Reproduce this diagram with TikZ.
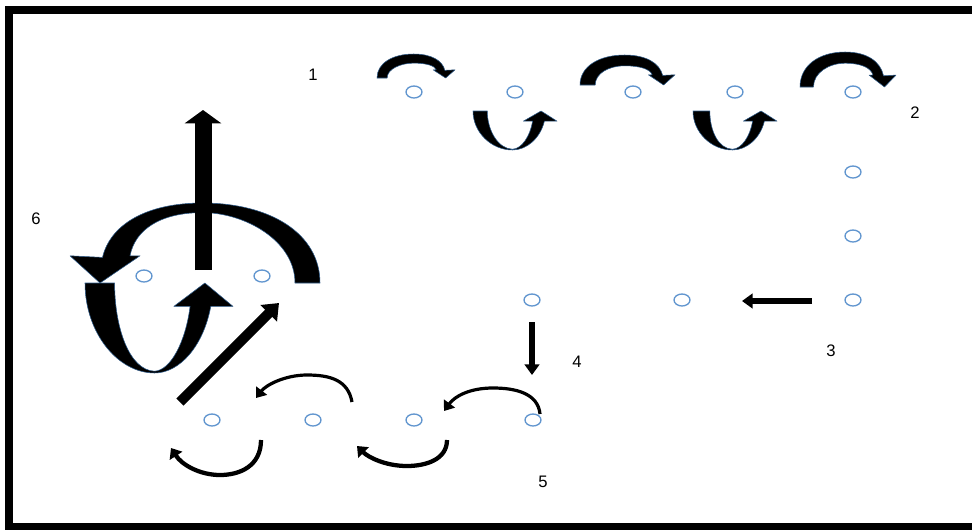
\documentclass[tikz,border=0pt]{standalone}
\usepackage{fontspec}
\newfontfamily\labelfont{Liberation Sans}
\usepackage{xcolor}
\definecolor{dotblue}{HTML}{6296CF}
\definecolor{edgeblue}{HTML}{2E5B8A}
\usepackage{tikz}
\usetikzlibrary{arrows.meta,shapes.geometric}
\tikzset{
  dot/.style={ellipse, draw=dotblue, line width=1pt, fill=white,
    minimum width=12pt, minimum height=9pt, inner sep=0pt},
  num/.style={font=\labelfont\fontsize{12.5}{14}\selectfont, text=black},
  arrowfill/.style={fill=black, draw=edgeblue, line width=0.4pt, line join=round},
  bigbar/.style={line width=12.75pt, -{Triangle[length=10pt,width=27pt]}},
  slantbar/.style={line width=7.5pt, -{Triangle[length=11pt,width=17pt]}},
  shortbar/.style={line width=5pt, -{Triangle[length=8pt,width=11pt]}},
  thinarc/.style={line width=2.4pt, -{Triangle[length=7pt,width=10pt]}},
  thinu/.style={line width=3.2pt, -{Triangle[length=7pt,width=11pt]}},
  % arc over the top, tail thick at (0,0), head down at right
  pics/overarrow/.style 2 args={code={
    \fill[arrowfill] (0,0) .. controls (0,0.62) and (0.2,1) .. (0.47,1)
      .. controls (0.7,1) and (0.84,0.72) .. (0.87,0.32)
      -- (1,0.34) -- (0.88,0) -- (0.72,0.34) -- (0.76,0.34)
      .. controls (0.74,{0.34+0.6*(#2-0.34)}) and (0.64,#2) .. (0.47,#2)
      .. controls (0.3,#2) and (#1,{0.6*#2}) .. (#1,0) -- cycle;
  }},
  % U below, tail thick at top left, head up at right
  pics/uarrow/.style={code={
    \fill[arrowfill] (0,1) .. controls (0,0.45) and (0.22,0) .. (0.47,0)
      .. controls (0.64,0) and (0.8,0.3) .. (0.85,0.74)
      -- (1,0.74) -- (0.81,1) -- (0.6,0.74) -- (0.71,0.74)
      .. controls (0.68,0.35) and (0.58,0.03) .. (0.47,0.02)
      .. controls (0.3,0.03) and (#1,0.5) .. (#1,1) -- cycle;
  }},
}

\begin{document}
\begin{tikzpicture}[x=0.75pt, y=0.75pt]
\clip (0,0) rectangle (972,-529);
% frame
\draw[line width=6pt] (9,-10) rectangle (990,-527);

% the spots
\foreach \n/\x/\y in {top1/414/92, top2/515/92, top3/633/92, top4/735/92, top5/853/92,
    side1/853/172, side2/853/236, side3/853/300, mid1/682/300, mid2/532/300,
    bot1/533/420, bot2/414/420, bot3/313/420, bot4/212/420,
    left1/144/276, left2/262/276}
  \node[dot] (\n) at (\x,-\y) {};

% numbers
\node[num] (lab1) at (313,-75) {1};
\node[num] (lab2) at (915,-113) {2};
\node[num] (lab3) at (831,-351) {3};
\node[num] (lab4) at (577,-362) {4};
\node[num] (lab5) at (543,-482) {5};
\node[num] (lab6) at (36,-219) {6};

% top row, 1 to 2
\pic[xscale=78, yscale=24] at (377,-78) {overarrow={0.13}{0.62}};
\pic[xscale=84, yscale=39] at (473,-150) {uarrow=0.17};
\pic[xscale=95, yscale=30] at (580,-85) {overarrow={0.16}{0.64}};
\pic[xscale=84, yscale=39] at (693,-150) {uarrow=0.2};
\pic[xscale=96, yscale=35] at (800,-87) {overarrow={0.14}{0.68}};

% 3 and 4
\coordinate (s3a) at (812,-301);
\coordinate (s3b) at (742,-301);
\draw[shortbar] (s3a) -- (s3b);
\coordinate (s4a) at (532,-322);
\coordinate (s4b) at (532,-375);
\draw[shortbar, line width=4.5pt] (s4a) -- (s4b);

% bottom row, 4 to 5
\draw[thinarc] (540,-414) .. controls (538,-393) and (515,-388) .. (493,-388)
  .. controls (470,-388) and (455,-396) .. (444,-411);
\draw[thinu] (447,-440) .. controls (447,-460) and (425,-466) .. (407,-466)
  .. controls (385,-466) and (368,-457) .. (357,-446);
\draw[thinarc] (352,-402) .. controls (348,-380) and (330,-375) .. (307,-375)
  .. controls (285,-375) and (266,-385) .. (256,-398);
\draw[thinu] (261,-440) .. controls (261,-466) and (240,-475) .. (220,-475)
  .. controls (200,-475) and (182,-465) .. (171,-448);

% 6, the big turn
\pic[xscale=-250, yscale=80] at (320,-283) {overarrow={0.1}{0.88}};
\pic[xscale=148, yscale=90] at (85,-373) {uarrow=0.2};
\coordinate (upa) at (203,-270);
\coordinate (upb) at (203,-110);
\draw[bigbar] (upa) -- (upb);
\coordinate (sla) at (180,-402);
\coordinate (slb) at (279,-303);
\draw[slantbar] (sla) -- (slb);
\end{tikzpicture}
\end{document}
